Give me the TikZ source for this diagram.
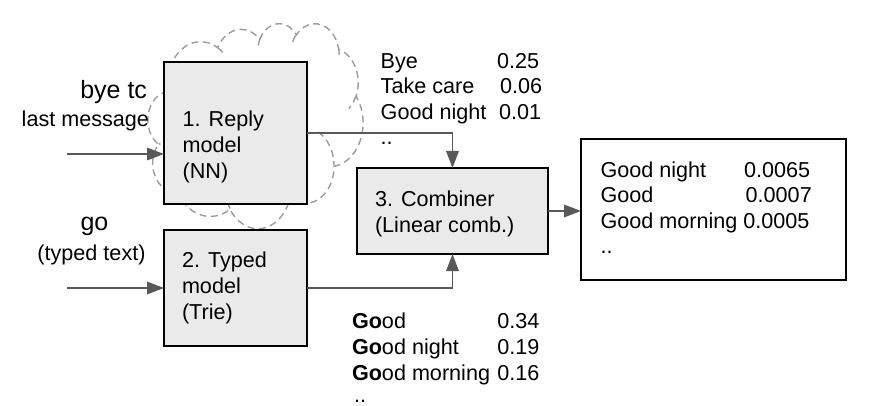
\documentclass[tikz,border=0pt]{standalone}
\usepackage{fontspec}
\setmainfont{Liberation Sans}
\usetikzlibrary{arrows.meta,calc}
\definecolor{boxfill}{HTML}{EAEAEA}
\definecolor{arrgray}{HTML}{595959}
\definecolor{cloudgray}{HTML}{9C9C9C}
\newcommand\cloudarc[4]{\pgfextra{%
 \pgfmathparse{atan2((#1)*sin(#3),(#2)*cos(#3))}\xdef\cTs{\pgfmathresult}%
 \pgfmathparse{atan2((#1)*sin((#3)+(#4)),(#2)*cos((#3)+(#4)))}\xdef\cTe{\pgfmathresult}%
 \pgfmathparse{mod(\cTe-\cTs+720,360)}\xdef\cD{\pgfmathresult}}%
 arc[start angle=\cTs, delta angle=\cD, x radius=#1, y radius=#2]}
\begin{document}
\begin{tikzpicture}[x=1pt,y=-1pt,
  every node/.style={inner sep=0pt, outer sep=0pt},
  txt/.style={font=\fontsize{21.6pt}{25.5pt}\selectfont, anchor=base west},
  txtr/.style={txt, anchor=base east},
  big/.style={font=\fontsize{25pt}{30pt}\selectfont},
  boxn/.style={draw=black, line width=1.6pt, fill=boxfill, rectangle, anchor=north west},
  arr/.style={draw=arrgray, line width=1.7pt, -{Triangle[length=17pt,width=12.5pt]}},
  cloudline/.style={draw=cloudgray, line width=1.4pt, dash pattern=on 7pt off 4.5pt}]
\useasboundingbox (0,0) rectangle (870,406);
% cloud
\begin{scope}[shift={(148,23)}, xscale=215/432, yscale=-205/432, x=1pt, y=1pt]
\draw[cloudline] (39.00,143.70)
 \cloudarc{67.53}{91.90}{-190.48748}{123.78053}
 \cloudarc{53.33}{72.67}{-144.10238}{89.94523}
 \cloudarc{43.65}{59.45}{-145.80792}{99.72302}
 \cloudarc{48.57}{65.95}{-130.98607}{117.24173}
 \cloudarc{53.33}{72.73}{-78.70888}{109.02692}
 \cloudarc{67.75}{92.20}{-46.26725}{130.269}
 \cloudarc{57.85}{78.67}{0.62502}{114.03333}
 \cloudarc{67.52}{92.15}{22.4516}{115.17255}
 \cloudarc{77.20}{105.43}{66.24263}{75.71102}
 \cloudarc{43.60}{59.18}{-274.94208}{146.73557}
 \cloudarc{43.45}{59.45}{-246.8285}{152.51885}
 -- cycle;
\draw[cloudline]
 (46.93,261.77) \cloudarc{43.45}{59.45}{86.742}{26.4295}
 (69.28,348.99) \cloudarc{43.60}{59.18}{73.61047}{11.44747}
 (164.78,390.90) \cloudarc{67.52}{92.15}{137.62415}{14.0811}
 (288.27,347.51) \cloudarc{67.52}{92.15}{6.45327}{15.99835}
 (341.29,229.54) \cloudarc{57.85}{78.67}{-70.29235}{70.91737}
 (417.98,153.54) \cloudarc{53.33}{72.73}{30.31803}{27.7515}
 (383.24,54.26) \cloudarc{48.57}{65.95}{-13.74433}{14.8589}
 (290.78,39.52) \cloudarc{48.57}{65.95}{-149.18145}{18.19537}
 (221.41,47.20) \cloudarc{43.65}{59.45}{-163.49427}{17.68635}
 (140.00,51.92) \cloudarc{67.53}{91.90}{-66.70695}{12.31935}
 (41.27,157.89) \cloudarc{67.53}{91.90}{157.65435}{11.85817};
\end{scope}
% boxes
\node[boxn, minimum width=143pt, minimum height=142pt] (b1) at (164,62) {};
\node[boxn, minimum width=143pt, minimum height=116pt] (b2) at (164,230) {};
\node[boxn, minimum width=191pt, minimum height=86pt] (comb) at (357,168) {};
\node[boxn, fill=white, minimum width=265pt, minimum height=141pt] (out) at (581,139) {};
% connectors
\coordinate (in1) at (67,154);
\coordinate (in2) at (67,288);
\draw[arr] (in1) -- (in1 -| b1.west);
\draw[arr] (in2) -- (in2 -| b2.west);
\draw[arr] (b1.east) -| (comb.north);
\draw[arr] (b2.east) -| (comb.south);
\draw[arr] (comb.east) -- (comb.east -| out.west);
% box texts
\node[txt] (t1a) at (182.7,127) {1. Reply};
\node[txt] (t1b) at (182.7,152.7) {model};
\node[txt] (t1c) at (182.7,178.4) {(NN)};
\node[txt] (t2a) at (182,267.5) {2. Typed};
\node[txt] (t2b) at (182,293.5) {model};
\node[txt] (t2c) at (182,319.5) {(Trie)};
\node[txt] (t3a) at (375,206.7) {3. Combiner};
\node[txt] (t3b) at (375,232.2) {(Linear comb.)};
% output
\node[txt] (o1) at (600.5,178) {Good night};
\node[txt] (o1n) at (744,178) {0.0065};
\node[txt] (o2) at (600.5,203) {Good};
\node[txt] (o2n) at (745.7,203) {0.0007};
\node[txt] (o3) at (600.5,228.5) {Good morning 0.0005};
\node[txt] (o4) at (600.5,254) {..};
% reply list
\node[txt] (r1) at (380.7,68.5) {Bye};
\node[txt] (r1n) at (497,68.5) {0.25};
\node[txt] (r2) at (380.7,94) {Take care};
\node[txt] (r2n) at (500,94) {0.06};
\node[txt] (r3) at (380.7,119.5) {Good night};
\node[txt] (r3n) at (499,119.5) {0.01};
\node[txt] (r4) at (380.7,145) {..};
% typed list
\node[txt] (p1) at (352,328.3) {\textbf{Go}od};
\node[txtr] (p1n) at (539.5,328.3) {0.34};
\node[txt] (p2) at (352,354) {\textbf{Go}od night};
\node[txtr] (p2n) at (539.5,354) {0.19};
\node[txt] (p3) at (352,380) {\textbf{Go}od morning};
\node[txtr] (p3n) at (539.5,380) {0.16};
\node[txt] (p4) at (354,402.5) {..};
% inputs
\node[big, anchor=base east] (i1) at (147,99) {bye tc};
\node[txt, anchor=base east] (i1b) at (149,127) {last message};
\node[big, anchor=base] (i2) at (94.5,230) {go};
\node[txt, anchor=base] (i2b) at (91.5,260.5) {(typed text)};
\end{tikzpicture}
\end{document}
